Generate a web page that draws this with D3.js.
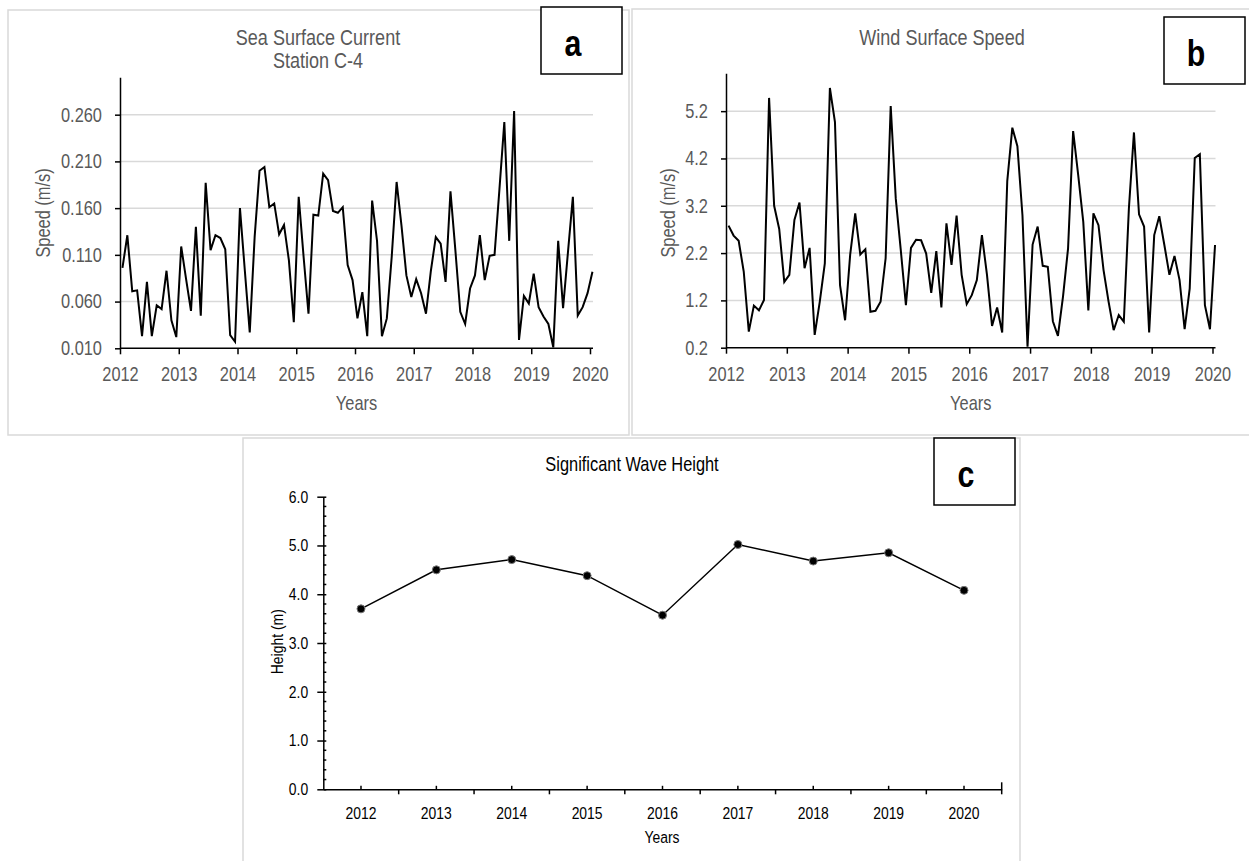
<!DOCTYPE html>
<html lang="en">
<head>
<meta charset="utf-8">
<title>Sea Surface Current, Wind Speed and Wave Height</title>
<script src="https://d3js.org/d3.v7.min.js"></script>
<style>
  body { margin: 0; background: #fff; }
  svg text { font-family: "Liberation Sans", Arial, sans-serif; }
</style>
</head>
<body>
<script>
var width = 1249;
var height = 861;

// monthly values Jan 2012 .. Jan 2020, one row per year
var currentSpeed = [
  0.096, 0.131, 0.071, 0.072, 0.023, 0.081, 0.023, 0.056, 0.052, 0.093, 0.040, 0.022,
  0.119, 0.084, 0.050, 0.140, 0.045, 0.187, 0.115, 0.131, 0.128, 0.116, 0.024, 0.017,
  0.160, 0.093, 0.027, 0.129, 0.200, 0.204, 0.161, 0.165, 0.132, 0.142, 0.104, 0.038,
  0.172, 0.108, 0.047, 0.153, 0.152, 0.197, 0.190, 0.157, 0.155, 0.161, 0.099, 0.083,
  0.042, 0.070, 0.023, 0.168, 0.125, 0.023, 0.042, 0.108, 0.188, 0.141, 0.088, 0.065,
  0.084, 0.069, 0.047, 0.093, 0.129, 0.122, 0.081, 0.178, 0.115, 0.049, 0.036, 0.074,
  0.088, 0.131, 0.083, 0.109, 0.110, 0.180, 0.252, 0.125, 0.264, 0.019, 0.066, 0.058,
  0.090, 0.054, 0.044, 0.036, 0.011, 0.125, 0.053, 0.113, 0.172, 0.045, 0.054, 0.069,
  0.092
];
var windSpeed = [
  2.78, 2.57, 2.46, 1.81, 0.54, 1.09, 0.99, 1.21, 5.48, 3.20, 2.71, 1.59,
  1.74, 2.90, 3.27, 1.88, 2.31, 0.47, 1.17, 1.98, 5.69, 4.97, 1.52, 0.78,
  2.16, 3.04, 2.17, 2.28, 0.96, 0.98, 1.17, 2.09, 5.31, 3.35, 2.25, 1.10,
  2.31, 2.48, 2.47, 2.19, 1.36, 2.24, 1.05, 2.83, 1.95, 2.99, 1.74, 1.12,
  1.31, 1.63, 2.58, 1.74, 0.66, 1.05, 0.52, 3.72, 4.85, 4.46, 3.00, 0.22,
  2.38, 2.76, 1.93, 1.91, 0.76, 0.45, 1.28, 2.30, 4.78, 3.85, 2.86, 0.99,
  3.04, 2.79, 1.84, 1.17, 0.57, 0.89, 0.75, 3.14, 4.75, 3.02, 2.76, 0.52,
  2.58, 2.98, 2.37, 1.74, 2.14, 1.63, 0.59, 1.45, 4.21, 4.29, 1.10, 0.59,
  2.37
];
var waveYears = ["2012", "2013", "2014", "2015", "2016", "2017", "2018", "2019", "2020"];
var waveHeight = [3.70, 4.50, 4.71, 4.38, 3.57, 5.02, 4.68, 4.85, 4.08];

var yearTicks = [2012, 2013, 2014, 2015, 2016, 2017, 2018, 2019, 2020];
var currentTicks = [0.010, 0.060, 0.110, 0.160, 0.210, 0.260];
var windTicks = [0.2, 1.2, 2.2, 3.2, 4.2, 5.2];
var waveTicks = [0, 1, 2, 3, 4, 5, 6];

var NARROW = "scale(0.82,1)";   // the figure uses a condensed face

var svg = d3.select("body")
            .append("svg")
            .attr("width", width)
            .attr("height", height);

// panel frames
svg.append("rect").attr("x", 8).attr("y", 10).attr("width", 621).attr("height", 425)
   .attr("fill", "none").attr("stroke", "#d9d9d9").attr("stroke-width", 1.5);
svg.append("rect").attr("x", 632).attr("y", 9).attr("width", 630).attr("height", 426)
   .attr("fill", "none").attr("stroke", "#d9d9d9").attr("stroke-width", 1.5);
svg.append("rect").attr("x", 243).attr("y", 438).attr("width", 777).attr("height", 440)
   .attr("fill", "none").attr("stroke", "#d9d9d9").attr("stroke-width", 1.5);

// condensed text placed at x,y (rot = -90 for vertical labels)
function label(parent, x, y, str, size, color, rot) {
    return parent.append("text")
        .attr("transform", "translate(" + x + "," + y + ")" + (rot ? " rotate(" + rot + ")" : "") + " " + NARROW)
        .attr("text-anchor", "middle")
        .style("font-size", size + "px")
        .style("fill", color)
        .text(str);
}

// points sit in the middle of each month
function monthPos(i) { return 2012 + (i + 0.5) / 12; }

function letterBox(x, y, letter) {
    svg.append("rect").attr("x", x).attr("y", y).attr("width", 81).attr("height", 67)
       .attr("fill", "#fff").attr("stroke", "#000").attr("stroke-width", 1.5);
    label(svg, x + 32, y + 49, letter, 37, "#000").style("font-weight", "bold");
}

function monthlyPanel(o) {
    var x = d3.scaleLinear().domain([2012, 2020]).range([o.left, o.right]);
    var y = d3.scaleLinear().domain(o.domain).range([o.bottom, o.top]);
    var g = svg.append("g");

    // gridlines
    g.selectAll(".grid")
     .data(o.ticks.slice(1))
     .enter().append("line")
     .attr("x1", o.left).attr("x2", o.right + 3)
     .attr("y1", function(d) { return y(d); })
     .attr("y2", function(d) { return y(d); })
     .attr("stroke", "#d9d9d9").attr("stroke-width", 1.5);

    var xAxis = g.append("g")
     .attr("transform", "translate(0," + o.bottom + ")")
     .call(d3.axisBottom(x).tickValues(yearTicks).tickFormat(d3.format("d"))
             .tickSize(6).tickSizeOuter(0).tickPadding(13));
    xAxis.select(".domain").remove();
    xAxis.append("line").attr("x1", o.left).attr("x2", o.right + 3);

    var yAxis = g.append("g")
     .attr("transform", "translate(" + o.left + ",0)")
     .call(d3.axisLeft(y).tickValues(o.ticks).tickFormat(d3.format(o.fmt))
             .tickSize(5).tickSizeOuter(0).tickPadding(17));

    [xAxis, yAxis].forEach(function(a) {
        a.selectAll("path, line").attr("stroke", "#000").attr("stroke-width", 1.5);
        a.selectAll("text").attr("transform", NARROW)
         .style("font-size", "20px").style("fill", "#595959");
    });

    var line = d3.line()
                 .x(function(d, i) { return x(monthPos(i)); })
                 .y(function(d) { return y(d); });
    g.append("path")
     .datum(o.values)
     .attr("d", line)
     .attr("fill", "none")
     .attr("stroke", "#000")
     .attr("stroke-width", 2);

    o.title.forEach(function(t, i) {
        label(g, o.titleX, 45 + i * 23, t, 22, "#595959");
    });
    label(g, o.ylabX, 213, "Speed (m/s)", 20, "#595959", -90).attr("dy", "0.35em");
    label(g, (o.left + o.right + 3) / 2, 410, "Years", 20, "#595959");
}

monthlyPanel({
    left: 120, right: 590, top: 77.3, bottom: 348.3,
    domain: [0.01, 0.30], ticks: currentTicks, fmt: ".3f",
    values: currentSpeed,
    title: ["Sea Surface Current", "Station C-4"], titleX: 318,
    ylabX: 43
});
monthlyPanel({
    left: 726, right: 1212.5, top: 73.3, bottom: 347.7,
    domain: [0.2, 6.0], ticks: windTicks, fmt: ".1f",
    values: windSpeed,
    title: ["Wind Surface Speed"], titleX: 942,
    ylabX: 668
});

// panel c: yearly significant wave height
var cx = d3.scaleBand().domain(waveYears).range([323.3, 1001.7]);
var cy = d3.scaleLinear().domain([0, 6]).range([789.3, 496.7]);
var gc = svg.append("g");

var cxAxis = gc.append("g")
 .attr("transform", "translate(0,789.3)")
 .call(d3.axisBottom(cx).tickSize(-3.5).tickSizeOuter(0).tickPadding(18));
cxAxis.selectAll(".tick text").attr("dy", "0.71em");
// boundary ticks between the years point downward
cxAxis.selectAll(".edge")
 .data(waveYears)
 .enter().append("line")
 .attr("class", "edge")
 .attr("x1", function(d) { return cx(d) + cx.bandwidth(); })
 .attr("x2", function(d) { return cx(d) + cx.bandwidth(); })
 .attr("y1", function(d, i) { return i == waveYears.length - 1 ? -7 : 0; })
 .attr("y2", 5);

var cyAxis = gc.append("g")
 .attr("transform", "translate(323.3,0)")
 .call(d3.axisLeft(cy).tickValues(waveTicks).tickFormat(d3.format(".1f"))
         .tickSize(6).tickSizeOuter(0).tickPadding(12.5));
cyAxis.selectAll(".tick line").attr("x2", -6).attr("x1", 3);
// minor ticks every 0.2
cyAxis.selectAll(".minor")
 .data(d3.range(0, 30).map(function(i) { return i * 0.2; }).filter(function(v, i) { return i % 5 != 0; }))
 .enter().append("line")
 .attr("class", "minor")
 .attr("x1", 0).attr("x2", 3)
 .attr("y1", function(d) { return cy(d); })
 .attr("y2", function(d) { return cy(d); });

[cxAxis, cyAxis].forEach(function(a) {
    a.selectAll("path, line").attr("stroke", "#000").attr("stroke-width", 1.5);
    a.selectAll("text").attr("transform", NARROW)
     .style("font-size", "17px").style("fill", "#000");
});

var waveLine = d3.line()
                 .x(function(d, i) { return cx(waveYears[i]) + cx.bandwidth() / 2; })
                 .y(function(d) { return cy(d); });
gc.append("path")
  .datum(waveHeight)
  .attr("d", waveLine)
  .attr("fill", "none").attr("stroke", "#000").attr("stroke-width", 1.5);
gc.selectAll(".dot")
  .data(waveHeight)
  .enter().append("circle")
  .attr("class", "dot")
  .attr("cx", function(d, i) { return cx(waveYears[i]) + cx.bandwidth() / 2; })
  .attr("cy", function(d) { return cy(d); })
  .attr("r", 4)
  .attr("fill", "#000")
  .attr("stroke", "#777").attr("stroke-width", 1);

label(gc, 632, 470.5, "Significant Wave Height", 20, "#000");
label(gc, 276.7, 641.7, "Height (m)", 17, "#000", -90).attr("dy", "0.35em");
label(gc, 662, 843, "Years", 17, "#000");

letterBox(541, 7, "a");
letterBox(1164, 17, "b");
letterBox(934, 438, "c");
</script>
</body>
</html>
